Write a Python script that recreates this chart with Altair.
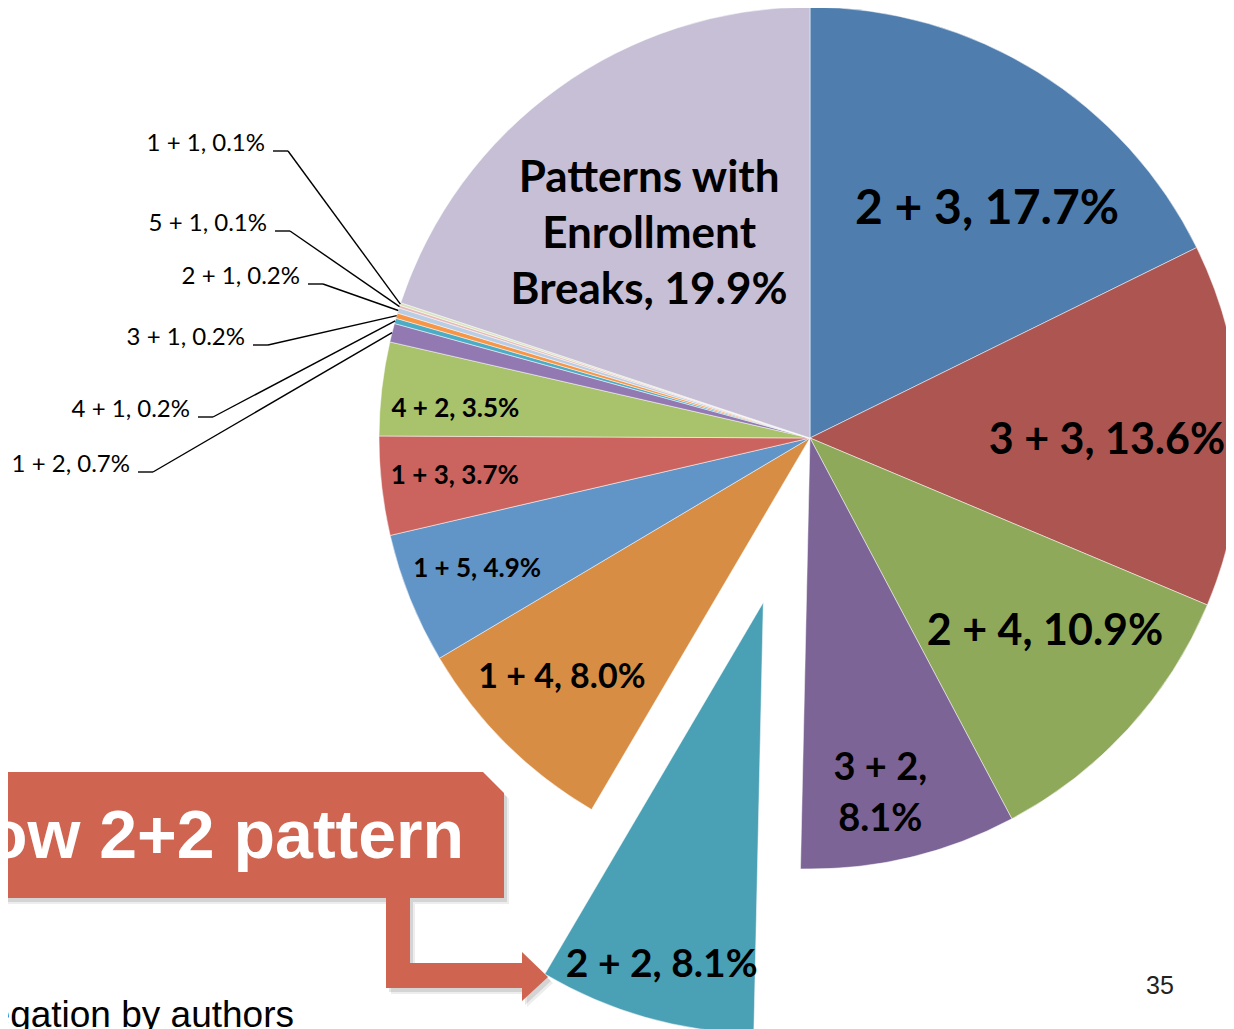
import altair as alt
import pandas as pd

# ---------------- data ----------------
categories = ["2 + 3", "3 + 3", "2 + 4", "3 + 2", "2 + 2", "1 + 4", "1 + 5", "1 + 3",
              "4 + 2", "1 + 2", "4 + 1", "3 + 1", "2 + 1", "5 + 1", "1 + 1",
              "Patterns with Enrollment Breaks"]
shares = [17.7, 13.6, 10.9, 8.1, 8.1, 8.0, 4.9, 3.7, 3.5, 0.7, 0.2, 0.2, 0.2, 0.1, 0.1, 19.9]
colors = ["#4F7EAE", "#AD5550", "#8FA95B", "#7C6496", "#4AA0B4", "#D88D45", "#6194C7",
          "#CB645E", "#A9C26C", "#9279B2", "#4BACC6", "#F79646", "#B9CDE5", "#E6B9B8",
          "#D7E4BD", "#C6BFD5"]

# ---------------- layout (positions / styles) ----------------
CX, CY, R = 802, 430, 431
explode_px = [0, 0, 0, 0, 171, 0, 0, 0, 0, 0, 0, 0, 0, 0, 0, 0]
label_radius = [291, 297, 303, 361, 374, 344, 357, 357, 356, 0, 0, 0, 0, 0, 0, 261]
label_nudge = [5.6, 1.9, -3.3, 2.1, -0.1, 1.3, 0.7, 0.6, -1.6, 0, 0, 0, 0, 0, 0, -2.2]
label_size = [48, 43, 43, 38, 39, 34, 26, 26, 26, 0, 0, 0, 0, 0, 0, 44]
knee_x = [None] * 9 + [145, 205, 260, 315, 282, 280] + [None]
knee_y = [None] * 9 + [464, 409, 337, 276, 223, 143] + [None]
wrap_rules = {"3 + 2": (", ", ",\n"),
              "Patterns with Enrollment Breaks": (" Enrollment ", "\nEnrollment\n")}
LH_MAIN, LH_BREAKS = 51, 56

total = round(sum(shares), 6)


def make_label(c, v):
    s = f"{c}, {v:.1f}%"
    if c in wrap_rules:
        a, b = wrap_rules[c]
        s = s.replace(a, b, 1)
    return s


labels = [make_label(c, v) for c, v in zip(categories, shares)]

df = pd.DataFrame({
    "order": list(range(len(categories))),
    "category": categories,
    "share": shares,
    "label": labels,
    "nl": [s.count("\n") + 1 for s in labels],
    "explode": explode_px,
    "lr": label_radius,
    "nudge": label_nudge,
    "lsize": label_size,
    "kx": knee_x,
    "ky": knee_y,
})

base = (
    alt.Chart(df)
    .transform_window(cum="sum(share)", frame=[None, 0], sort=[alt.SortField("order")])
    .transform_calculate(start="datum.cum - datum.share")
    .transform_calculate(ang=f"(datum.cum - datum.share / 2) / {total} * 2 * PI")
    .transform_calculate(cx=f"{CX} + datum.explode * sin(datum.ang)")
    .transform_calculate(cy=f"{CY} - datum.explode * cos(datum.ang)")
    .transform_calculate(lang="datum.ang + datum.nudge * PI / 180")
    .transform_calculate(tx="datum.cx + datum.lr * sin(datum.lang)")
    .transform_calculate(ty="datum.cy - datum.lr * cos(datum.lang) + 0.058 * datum.lsize")
    .transform_calculate(ex=f"{CX} + {R} * sin(datum.ang)")
    .transform_calculate(ey=f"{CY} - {R} * cos(datum.ang)")
)

X = lambda f: alt.X(f, type="quantitative", scale=None, axis=None)
Y = lambda f: alt.Y(f, type="quantitative", scale=None, axis=None)

pie = base.mark_arc(outerRadius=R, stroke="white", strokeWidth=0.5).encode(
    theta=alt.Theta("start:Q", scale=alt.Scale(domain=[0, total])),
    theta2=alt.Theta2("cum:Q"),
    color=alt.Color("category:N", scale=alt.Scale(domain=categories, range=colors), legend=None),
    x=X("cx"),
    y=Y("cy"),
    order=alt.Order("order:Q"),
)

inside_labels = base.transform_filter(
    "datum.lr > 0 && indexof(datum.label, 'Enrollment') < 0"
).transform_calculate(
    tyl=f"datum.ty - (datum.nl - 1) * {LH_MAIN} / 2"
).mark_text(font="Lato", fontWeight="bold", color="black", align="center",
            baseline="middle", lineBreak="\n", lineHeight=LH_MAIN).encode(
    x=X("tx"), y=Y("tyl"), text="label:N", size=alt.Size("lsize:Q", scale=None, legend=None)
)

breaks_label = base.transform_filter(
    "indexof(datum.label, 'Enrollment') >= 0"
).transform_calculate(
    tyl=f"datum.ty - (datum.nl - 1) * {LH_BREAKS} / 2"
).mark_text(font="Lato", fontWeight="bold", color="black", align="center",
            baseline="middle", lineBreak="\n", lineHeight=LH_BREAKS).encode(
    x=X("tx"), y=Y("tyl"), text="label:N", size=alt.Size("lsize:Q", scale=None, legend=None)
)

small = base.transform_filter("isValid(datum.kx)").transform_calculate(
    hx0="datum.kx - 15", tx2="datum.kx - 23", ty2="datum.ky - 7"
)
leader_h = small.mark_rule(color="black", strokeWidth=1.4).encode(
    x=X("hx0"), x2="kx:Q", y=Y("ky"), y2="ky:Q"
)
leader_d = small.mark_rule(color="black", strokeWidth=1.4).encode(
    x=X("kx"), x2="ex:Q", y=Y("ky"), y2="ey:Q"
)
leader_text = small.mark_text(font="Lato", fontSize=24, color="black", align="right",
                              baseline="middle").encode(
    x=X("tx2"), y=Y("ty2"), text="label:N"
)

# ---------------- annotations ----------------
one = pd.DataFrame({"k": [0]})
box_path = "M-20,764 L475,764 L496,785 L496,890 L-20,890 Z"
arrow_path = ("M378,890 L402,890 L402,955 L514,955 L514,944 L540,969 L514,993 "
              "L514,980 L378,980 Z")


def shape(path, color, opacity=1.0, dx=0, dy=0):
    return alt.Chart(one).mark_point(shape=path, size=4, filled=True, fill=color,
                                     opacity=opacity, strokeOpacity=0).encode(
        x=alt.value(dx), y=alt.value(dy))


callout = alt.layer(
    shape(box_path, "#000000", 0.07, 5, 6),
    shape(box_path, "#000000", 0.10, 3, 4),
    shape(arrow_path, "#000000", 0.07, 5, 6),
    shape(arrow_path, "#000000", 0.10, 3, 4),
    shape(box_path, "#CF6551"),
    shape(arrow_path, "#CF6551"),
)

callout_text = alt.Chart(one).mark_text(
    text="ow 2+2 pattern", font="Liberation Sans", fontWeight="bold", fontSize=68,
    color="white", align="right", baseline="alphabetic"
).encode(x=alt.value(456), y=alt.value(850))

source_text = alt.Chart(one).mark_text(
    text="egation by authors", font="Liberation Sans", fontSize=37, color="black",
    align="right", baseline="alphabetic"
).encode(x=alt.value(286), y=alt.value(1019))

page_text = alt.Chart(one).mark_text(
    text="35", font="Liberation Sans", fontSize=25, color="#222222",
    align="center", baseline="alphabetic"
).encode(x=alt.value(1152), y=alt.value(986))

chart = alt.layer(
    pie, inside_labels, breaks_label, leader_h, leader_d, leader_text,
    callout, callout_text, source_text, page_text
).properties(
    width=1218, height=1021, autosize=alt.AutoSizeParams(type="none"), padding=0,
    background="white"
).configure_view(stroke=None)

chart.save("out.html", embed_options={"renderer": "svg", "actions": False})
